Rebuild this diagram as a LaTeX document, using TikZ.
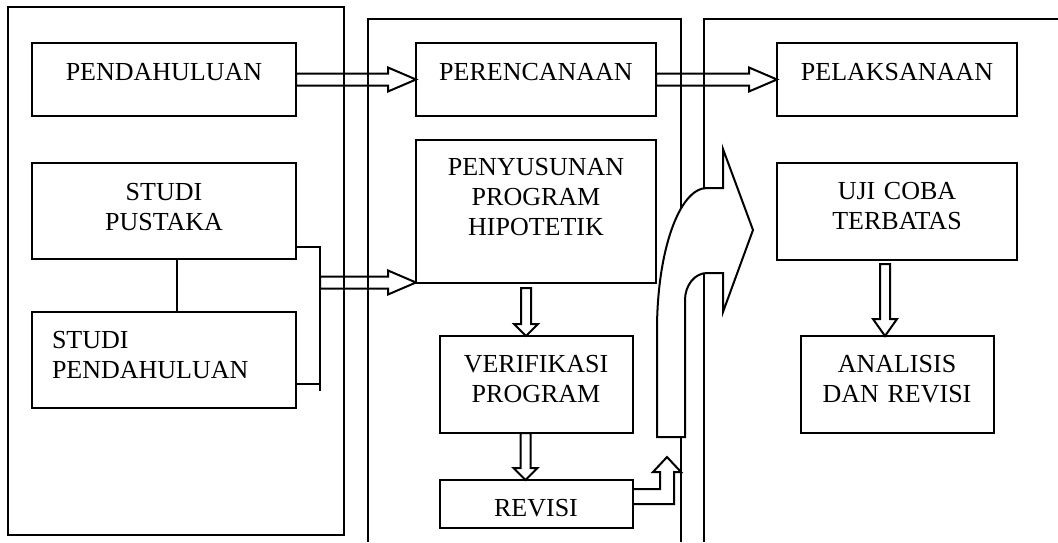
\documentclass[tikz,border=0pt]{standalone}
\usepackage{fontspec}
\setmainfont{Liberation Serif}
\usetikzlibrary{calc,positioning}

\begin{document}
\begin{tikzpicture}[
  x=1pt, y=-1pt,
  line width=2pt,
  box/.style={draw, inner sep=0pt, outer sep=0pt, align=center, font=\fontsize{26}{30}\selectfont},
  harr/.style={to path={let \p1=(\tikztostart), \p2=(\tikztotarget) in
    (\x1,\y1+6pt) -- (\x2-28pt,\y1+6pt) -- (\x2-28pt,\y1+12pt) -- (\x2,\y1)
    -- (\x2-28pt,\y1-12pt) -- (\x2-28pt,\y1-6pt) -- (\x1,\y1-6pt) -- cycle}},
  varr/.style={to path={let \p1=(\tikztostart), \p2=(\tikztotarget) in
    (\x1-5pt,\y1) -- (\x1-5pt,\y2+#1) -- (\x1-12pt,\y2+#1) -- (\x1,\y2)
    -- (\x1+12pt,\y2+#1) -- (\x1+5pt,\y2+#1) -- (\x1+5pt,\y1) -- cycle}},
  varr/.default=12pt
]
  \useasboundingbox (0,0) rectangle (1058,542);

  % three stages
  \draw (8,7) rectangle (344,535);
  \draw (368,542) |- (681,19) -- (681,542);
  \draw (704,542) |- (1058,19);

  \node[box, text width=264pt, text height=37pt, text depth=36pt] (pendahuluan) at (164,79.5) {PENDAHULUAN};
  \node[box, text width=264pt, text height=37pt, text depth=59pt, below=47pt of pendahuluan] (pustaka) {STUDI\\PUSTAKA};
  \node[box, text width=224pt, inner xsep=20pt, align=left, text height=36pt, text depth=60pt, below=53pt of pustaka] (studipend) {STUDI\\PENDAHULUAN};
  \node[box, text width=240pt, text height=37pt, text depth=36pt, right=120pt of pendahuluan] (perencanaan) {PERENCANAAN};
  \node[box, text width=240pt, text height=35pt, text depth=108pt, below=24pt of perencanaan] (penyusunan) {PENYUSUNAN\\PROGRAM\\HIPOTETIK};
  \node[box, text width=193pt, text height=36pt, text depth=61pt, below=53pt of penyusunan] (verifikasi) {VERIFIKASI\\PROGRAM};
  \node[box, text width=193pt, text height=36pt, text depth=12pt, below=47pt of verifikasi] (revisi) {REVISI};
  \node[box, text width=240pt, text height=37pt, text depth=36pt, right=121pt of perencanaan] (pelaksanaan) {PELAKSANAAN};
  \node[box, text width=240pt, text height=36pt, text depth=61pt, below=47pt of pelaksanaan] (ujicoba) {UJI COBA\\TERBATAS};
  \node[box, text width=193pt, text height=36pt, text depth=61pt, below=76pt of ujicoba] (analisis) {ANALISIS\\DAN REVISI};

  % bracket of the two studies
  \coordinate (brk) at (320,391);
  \coordinate (join) at (320,282.5);
  \draw ($(pustaka.south)+(13,0)$) -- ($(studipend.north)+(13,0)$);
  \draw ($(pustaka.south east)+(0,-12)$) -| (brk);
  \draw ($(studipend.south east)+(0,-24)$) coordinate (sp) -- (sp -| brk);

  \draw[harr] (pendahuluan.east) to (perencanaan.west);
  \draw[harr] (perencanaan.east) to (pelaksanaan.west);
  \draw[harr] (join) to (penyusunan.south west);
  \draw[varr] ($(penyusunan.south)+(-10,5)$) to (verifikasi.north);
  \draw[varr] ($(verifikasi.south)+(-10.5,0)$) to (revisi.north);
  \draw[varr=17pt] ($(ujicoba.south)+(-12,4)$) to (analisis.north);

  % revisi goes up into the big arrow
  \coordinate (revtip) at (667,457);
  \draw let \p1=(revisi.east), \p2=(revtip) in
    (\x1,\y1+15pt) -- (\x2-7pt,\y1+15pt) -- (\x2-7pt,\y2-15pt) -- (\x2-14pt,\y2-15pt) -- (\x2,\y2)
    -- (\x2+14pt,\y2-15pt) -- (\x2+7pt,\y2-15pt) -- (\x2+7pt,\y1) -- (\x1,\y1);

  % big curved arrow
  \draw[fill=white] (657,437) -- (657,330) .. controls (657,252) and (679,188) .. (707,188)
    -- (723,188) -- (723,149) -- (753,230) -- (723,312) -- (723,273) -- (707,273)
    .. controls (695,273) and (685,285) .. (685,300) -- (685,437) -- cycle;
\end{tikzpicture}
\end{document}
